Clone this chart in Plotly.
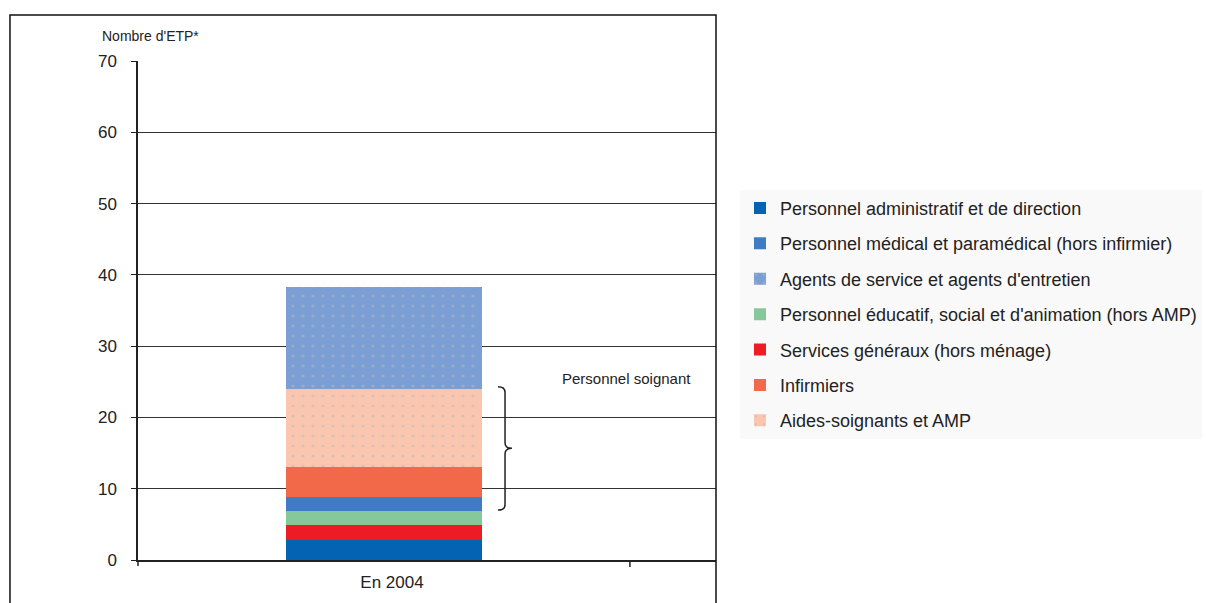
import plotly.graph_objects as go

# Effectifs en ETP par catégorie de personnel (empilés de bas en haut)
categories = ["En 2004"]
series_names = [
    "Personnel administratif et de direction",
    "Services généraux (hors ménage)",
    "Personnel éducatif, social et d'animation (hors AMP)",
    "Personnel médical et paramédical (hors infirmier)",
    "Infirmiers",
    "Aides-soignants et AMP",
    "Agents de service et agents d'entretien",
]
series_values = [2.85, 2.05, 1.95, 2.0, 4.15, 10.95, 14.3]
series_colors = ["#0563b4", "#ed1c24", "#86c899", "#3f7cc4", "#f2694a", "#fbc6b0", "#7b9fd4"]
legend_rank = [1, 5, 4, 2, 6, 7, 3]
dotted = [False, False, False, False, False, True, True]

y_ticks = [0, 10, 20, 30, 40, 50, 60, 70]

FONT = "Liberation Sans, Arial, Helvetica, sans-serif"

fig = go.Figure()
for name, val, col, rank, dot in zip(series_names, series_values, series_colors, legend_rank, dotted):
    marker = dict(color=col, line=dict(width=0))
    if dot:
        marker["pattern"] = dict(shape=".", fgcolor="#b8b8b8", size=10, solidity=0.08)
    fig.add_trace(go.Bar(
        x=categories, y=[val], name=name, marker=marker,
        width=0.4, legendrank=rank, legendgroup=name,
    ))

fig.update_layout(
    barmode="stack",
    width=1206, height=603,
    margin=dict(l=138, r=490, t=61, b=43, autoexpand=False),
    paper_bgcolor="white", plot_bgcolor="white",
    font=dict(family=FONT, color="#222"),
    legend=dict(
        x=1.0415, y=0.742, xanchor="left", yanchor="top",
        bgcolor="#f9f9f9", borderwidth=0,
        font=dict(family=FONT, size=18, color="#222"),
        tracegroupgap=9, itemwidth=30,
    ),
    xaxis=dict(
        type="category", range=[-0.5, 0.675],
        showgrid=False, ticks="", showline=True, linecolor="#222", linewidth=1.5,
        tickfont=dict(family=FONT, size=17, color="#222"),
        ticklabelstandoff=6, ticklabelshift=8,
    ),
    yaxis=dict(
        range=[0, 70], tickvals=y_ticks,
        showgrid=True, gridcolor="#333", gridwidth=1,
        showline=True, linecolor="#222", linewidth=1.5,
        ticks="outside", ticklen=5, tickcolor="#222",
        tickfont=dict(family=FONT, size=17, color="#222"),
        ticklabelstandoff=11,
        zeroline=False,
    ),
)

# Cadre du graphique
fig.add_shape(type="rect", xref="paper", yref="paper",
              x0=-0.2215, x1=1.0, y0=-0.3, y1=1.0922,
              line=dict(color="#111", width=1.5), fillcolor="rgba(0,0,0,0)", layer="above")

# Prolongement de l'axe vertical sous zéro et graduation entre catégories
fig.add_shape(type="line", xref="paper", yref="paper", x0=0, x1=0, y0=0, y1=-0.012,
              line=dict(color="#222", width=1.5))
fig.add_shape(type="line", xref="x", yref="paper", x0=0.5, x1=0.5, y0=0, y1=-0.014,
              line=dict(color="#222", width=1.5))

# Accolade "Personnel soignant"
x0, x1, x2 = 0.6228, 0.635, 0.647
yt, ym, yb, d = 24.3, 15.66, 7.0, 0.8
path = (f"M {x0},{yt} Q {x1},{yt} {x1},{yt - d} L {x1},{ym + d} "
        f"Q {x1},{ym} {x2},{ym} Q {x1},{ym} {x1},{ym - d} "
        f"L {x1},{yb + d} Q {x1},{yb} {x0},{yb}")
fig.add_shape(type="path", xref="paper", yref="y", path=path,
              line=dict(color="#222", width=1.5))

fig.add_annotation(text="Personnel soignant", xref="paper", yref="y",
                   x=0.730, y=25.5, xanchor="left", yanchor="middle", showarrow=False,
                   font=dict(family=FONT, size=15, color="#222"))

fig.add_annotation(text="Nombre d'ETP*", xref="paper", yref="paper",
                   x=-0.0657, y=1.05, xanchor="left", yanchor="middle", showarrow=False,
                   font=dict(family=FONT, size=14, color="#222"))

fig.write_html("out.html")
